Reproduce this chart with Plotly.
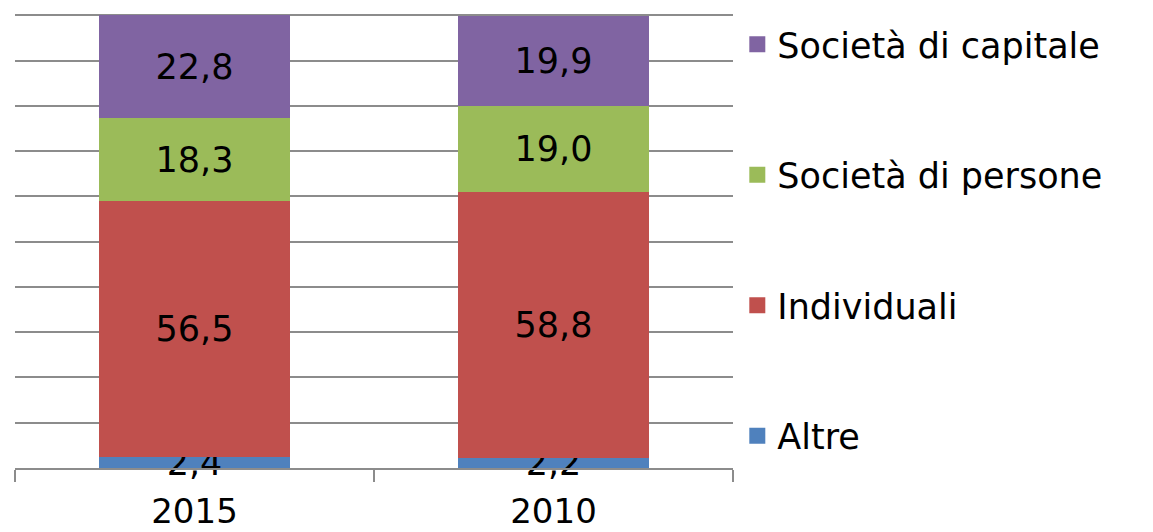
import plotly.graph_objects as go

categories = ["2015", "2010"]
series_names = ["Altre", "Individuali", "Società di persone", "Società di capitale"]
altre = [2.4, 2.2]
individuali = [56.5, 58.8]
soc_persone = [18.3, 19.0]
soc_capitale = [22.8, 19.9]
colors = ["#4F81BD", "#C0504D", "#9BBB59", "#8064A2"]

values = [altre, individuali, soc_persone, soc_capitale]
FONT = "DejaVu Sans"

fig = go.Figure()
for name, vals, col in zip(series_names, values, colors):
    fig.add_trace(go.Bar(
        x=categories, y=vals, name=name, marker=dict(color=col, line=dict(width=0)),
        texttemplate="%{y:.1f}", textposition="inside", insidetextanchor="middle",
        textfont=dict(family=FONT, size=35, color="black"),
        showlegend=False, cliponaxis=False,
    ))
# legend entries, top to bottom as in the reference
for name, col in reversed(list(zip(series_names, colors))):
    fig.add_trace(go.Scatter(
        x=[None], y=[None], mode="markers", name=name, legendgroup=name,
        marker=dict(symbol="square", size=26, color=col),
    ))

fig.update_layout(
    width=1153, height=532,
    barmode="stack", bargap=0.467,
    separators=",.",
    uniformtext=dict(minsize=35, mode="show"),
    plot_bgcolor="white", paper_bgcolor="white",
    margin=dict(l=7, r=428, t=5, b=72, autoexpand=False),
    font=dict(family=FONT, size=35, color="black"),
    legend=dict(
        x=1.006, xanchor="left", y=0.9956, yanchor="top",
        traceorder="grouped", tracegroupgap=82,
        font=dict(family=FONT, size=35, color="black"),
        bgcolor="rgba(0,0,0,0)",
    ),
    xaxis=dict(
        type="category", tickson="boundaries", ticks="outside", ticklen=12,
        tickwidth=2, tickcolor="#8c8c8c", showline=True, linecolor="#8c8c8c",
        linewidth=2, showgrid=False, ticklabelstandoff=12,
        tickfont=dict(family=FONT, size=34, color="black"),
    ),
    yaxis=dict(
        range=[0, 100.5], tickvals=list(range(0, 101, 10)), showticklabels=False,
        showgrid=True, gridcolor="#8c8c8c", gridwidth=2, zeroline=False,
        showline=False, ticks="",
    ),
)

fig.write_html("out.html")
